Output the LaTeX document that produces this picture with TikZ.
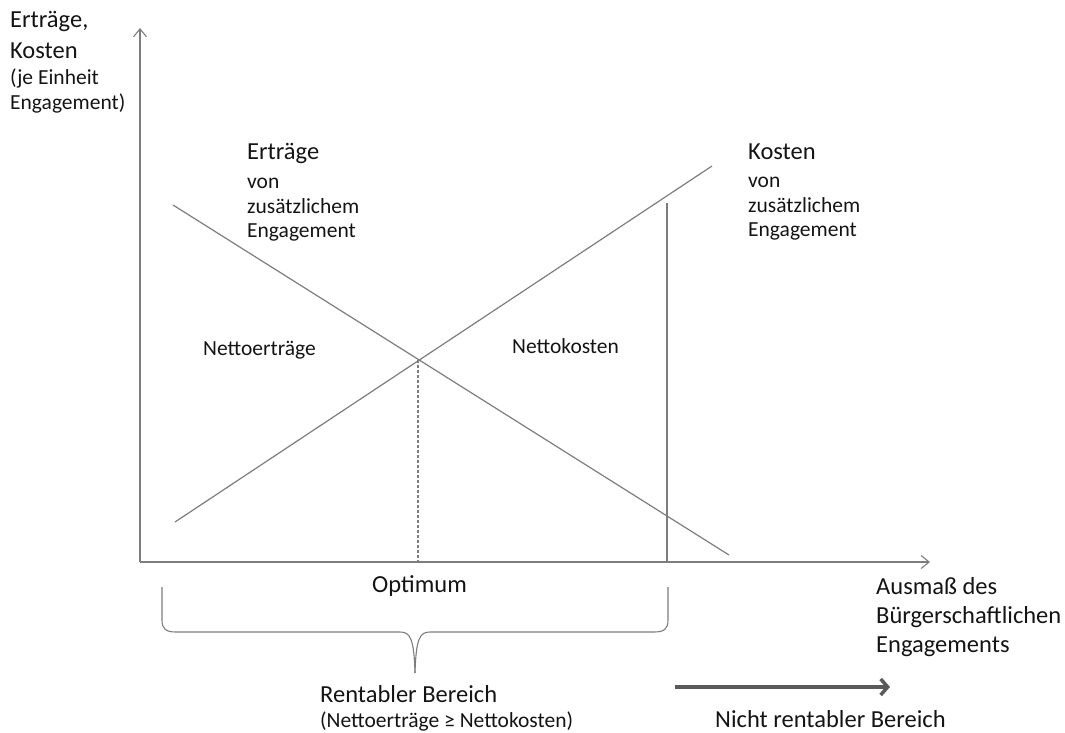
\documentclass[tikz,border=0pt]{standalone}
\usepackage{fontspec}
\setmainfont{Carlito}
\usetikzlibrary{arrows.meta}
\definecolor{lineg}{RGB}{125,125,125}
\definecolor{darkarrow}{RGB}{90,90,90}
\definecolor{txt}{RGB}{20,20,20}
\tikzset{
  big/.style={anchor=base west, inner sep=0pt, text=txt, font=\fontsize{24.5}{29}\selectfont},
  small/.style={anchor=base west, inner sep=0pt, text=txt, font=\fontsize{21.5}{25}\selectfont},
  curve/.style={draw=lineg, line width=1.2pt},
  axis/.style={draw=lineg, line width=1.2pt, -{Straight Barb[length=8pt,width=13pt,line width=1.1pt]}},
}
\begin{document}
\begin{tikzpicture}[x=1pt,y=-1pt]
\useasboundingbox (0,0) rectangle (1065,733);
% axes
\coordinate (O) at (140,562);
\coordinate (ytop) at (140,28);
\coordinate (xend) at (930,562);
\draw[axis] (O) -- (ytop);
\draw[axis] (O) -- (xend);
% curves
\coordinate (k1) at (175,522);
\coordinate (k2) at (712,166);
\coordinate (e1) at (173,205);
\coordinate (e2) at (729,555);
\draw[curve] (k1) -- (k2);
\draw[curve] (e1) -- (e2);
\coordinate (opt) at (418,359.5);
\coordinate (optb) at (418,562);
\draw[draw=lineg, line width=1.1pt, dashed, dash pattern=on 3pt off 2pt] (opt) -- (optb);
\coordinate (vt) at (667,203);
\coordinate (vb) at (667,562);
\draw[curve] (vt) -- (vb);
% brace
\coordinate (bl) at (162,587);
\coordinate (br) at (668,587);
\coordinate (btip) at (415,673);
\draw[curve, line width=1.1pt] (bl) -- (162,620) .. controls (162,629) and (166,632) .. (176,632)
  -- (400,632) .. controls (410,632) and (414,638) .. (btip);
\draw[curve, line width=1.1pt] (br) -- (668,620) .. controls (668,629) and (664,632) .. (654,632)
  -- (430,632) .. controls (420,632) and (416,638) .. (btip);
% thick arrow
\coordinate (a1) at (675,687);
\coordinate (a2) at (890,687);
\draw[draw=darkarrow, line width=4pt, -{Straight Barb[length=7pt,width=16pt,line width=3.5pt]}] (a1) -- (a2);
% texts
\node[big] (yl1) at (10,28) {Erträge,};
\node[big] (yl2) at (10,59) {Kosten};
\node[small] (yl3) at (10,85) {(je Einheit};
\node[small] (yl4) at (10,110) {Engagement)};

\node[big] (er1) at (247,159) {Erträge};
\node[small] (er2) at (247,188) {von};
\node[small] (er3) at (247,213) {zusätzlichem};
\node[small] (er4) at (247,237) {Engagement};

\node[big] (ko1) at (748,160) {Kosten};
\node[small] (ko2) at (748,187) {von};
\node[small] (ko3) at (748,212) {zusätzlichem};
\node[small] (ko4) at (748,236) {Engagement};

\node[small] (ne) at (203,355) {Nettoerträge};
\node[small] (nk) at (512,353) {Nettokosten};

\node[big] (optl) at (372,592) {Optimum};

\node[big] (au1) at (876,594) {Ausmaß des};
\node[big] (au2) at (876,623) {Bürgerschaftlichen};
\node[big] (au3) at (876,652) {Engagements};

\node[big] (rb1) at (320,702) {Rentabler Bereich};
\node[small] (rb2) at (320,727) {(Nettoerträge ≥ Nettokosten)};

\node[big] (nr) at (715,727) {Nicht rentabler Bereich};
\end{tikzpicture}
\end{document}
